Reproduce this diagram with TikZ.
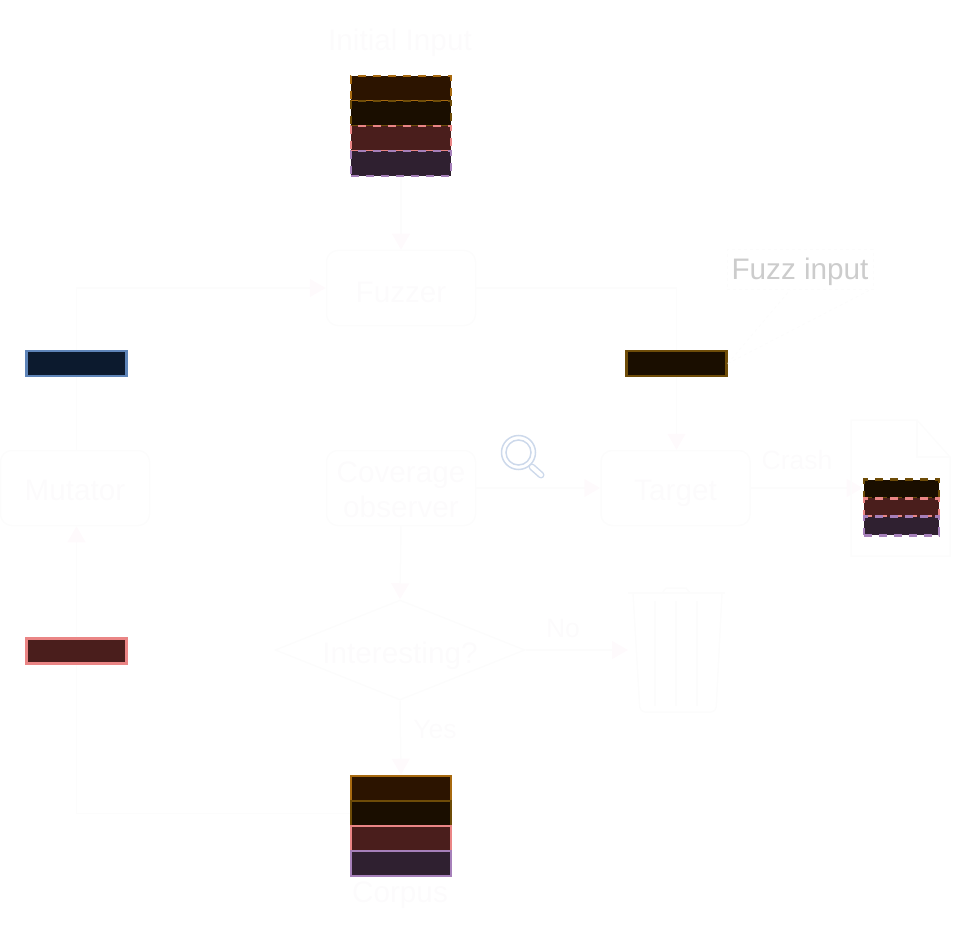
\documentclass[tikz,border=0pt]{standalone}
\usepackage{fontspec}
\setmainfont{Liberation Sans}
\usetikzlibrary{arrows.meta,shapes.geometric}
\definecolor{faintline}{HTML}{FCFCFC}
\definecolor{fainttext}{HTML}{FCFBFC}
\definecolor{arrowc}{HTML}{FEFAFC}
\definecolor{lens}{HTML}{CDD9EB}
\definecolor{fuzzgray}{HTML}{CCCCCC}
\definecolor{oA}{HTML}{2C1400}\definecolor{oAb}{HTML}{A86A10}
\definecolor{oB}{HTML}{1A0E00}\definecolor{oBb}{HTML}{6E4C08}
\definecolor{rA}{HTML}{4A1E1C}\definecolor{rAb}{HTML}{EA8585}
\definecolor{pA}{HTML}{2F2030}\definecolor{pAb}{HTML}{A680BA}
\definecolor{bA}{HTML}{0C1A2E}\definecolor{bAb}{HTML}{5E84B8}
\newcommand{\lowered}[2]{\raisebox{-#1}[\height][\depth]{#2}}
\tikzset{
  x=1pt,y=-1pt,
  big/.style={font=\fontsize{29.7}{35}\selectfont},
  small/.style={font=\fontsize{26.5}{31}\selectfont},
  procbox/.style={draw=faintline,line width=1.5pt,rounded corners=11pt,minimum width=149pt,minimum height=75pt,inner sep=0pt,align=center,text=fainttext,big},
  lab/.style={text=fainttext,inner sep=0pt},
  conn/.style={draw=faintline,line width=1.5pt,-{Triangle[length=16pt,width=18pt,color=arrowc]}},
  plain/.style={draw=faintline,line width=1.5pt},
  cell/.style={line width=2.6pt,minimum width=100pt,minimum height=25pt,inner sep=0pt},
  cellsm/.style={line width=2.6pt,minimum width=75pt,minimum height=18.5pt,inner sep=0pt},
  dashes/.style={dash pattern=on 8pt off 7pt},
  oa/.style={fill=oA,draw=oAb},
  ob/.style={fill=oB,draw=oBb},
  ra/.style={fill=rA,draw=rAb},
  pa/.style={fill=pA,draw=pAb},
  ba/.style={fill=bA,draw=bAb},
}
\begin{document}
\begin{tikzpicture}
\useasboundingbox (0,0) rectangle (953,925);
% process nodes
\node[procbox] (fuzzer) at (401,288) {\lowered{4pt}{Fuzzer}};
\node[procbox] (mutator) at (75,488) {\lowered{2pt}{Mutator}};
\node[procbox] (coverage) at (401,488) {\lowered{2pt}{Coverage}\\\lowered{2pt}{observer}};
\node[procbox] (target) at (675.5,488) {\lowered{5pt}{Target}};
\node[draw=faintline,line width=1.5pt,shape=diamond,aspect=2.5,minimum width=250pt,minimum height=100pt,inner sep=0pt,text=fainttext,big] (interesting) at (400,650) {\lowered{6pt}{Interesting?}};
% stacks
\node[cell,oa,dashes] (iA) at (401,88.5) {};
\node[cell,ob,dashes] (iB) at (401,113.5) {};
\node[cell,ra,dashes] (iC) at (401,138.5) {};
\node[cell,pa,dashes] (iD) at (401,163.5) {};
\node[cell,oa] (cA) at (401,788.5) {};
\node[cell,ob] (cB) at (401,813.5) {};
\node[cell,ra] (cC) at (401,838.5) {};
\node[cell,pa] (cD) at (401,863.5) {};
\node[cell,ba] (blue) at (76.5,363.5) {};
\node[cell,ob] (orange) at (676.5,363.5) {};
\node[cell,ra] (red) at (76.5,651) {};
\node[cellsm,ob,dashes] (xA) at (901.5,489) {};
\node[cellsm,ra,dashes] (xB) at (901.5,507.5) {};
\node[cellsm,pa,dashes] (xC) at (901.5,526) {};
% labels
\node[lab,big] (initlabel) at (400,43) {Initial Input};
\node[lab,big] (corpuslabel) at (400,895) {Corpus};
\node[lab,small] (nolabel) at (563,629) {No};
\node[lab,small] (yeslabel) at (435,730) {Yes};
\node[lab,small] (crashlabel) at (797,460) {Crash};
\node[big,text=fuzzgray,inner sep=0pt,minimum width=146pt,minimum height=40pt,draw=faintline,dashed,line width=1pt] (fuzzlabel) at (800,270) {\lowered{2pt}{Fuzz input}};
% connectors
\path[conn] (iD.south) -- (fuzzer.north);
\path[conn] (blue.north) |- (fuzzer.west);
\path[plain] (blue.south) -- (blue.south |- mutator.north);
\path[conn] (red.north) -- (red.north |- mutator.south);
\path[plain] (cB.west) -| (red.south);
\path[plain] (fuzzer.east) -| (orange.north);
\path[conn] (orange.south) -- (orange.south |- target.north);
\path[conn] (coverage.east) -- (target.west);
\path[conn] (coverage.south) -- (interesting.north);
\path[conn] (interesting.south) -- (cA.north);
\path[conn] (target.east) -- (target.east -| xB.west);
\coordinate (trashin) at (628,650);
\path[conn] (interesting.east) -- (trashin);
\coordinate (wedgeL) at (790,290);
\coordinate (wedgeR) at (870,290);
\path[plain,dashed,line width=1pt] (orange.east) -- (wedgeL);
\path[plain,dashed,line width=1pt] (orange.east) -- (wedgeR);
% crash document outline
\path[plain] (851,420) -- (917,420) -- (950,457) -- (950,556) -- (851,556) -- cycle;
\path[plain] (917,420) -- (917,457) -- (950,457);
% trash can
\path[plain] (628,593) -- (725,593);
\path[plain] (662,593) -- (666,588) -- (686,588) -- (690,593);
\path[plain,rounded corners=5pt] (633,593) -- (640,712) -- (716,712) -- (722,593);
\path[plain] (655,601) -- (655,706);
\path[plain] (676,601) -- (676,706);
\path[plain] (697,601) -- (697,706);
% magnifier
\draw[lens,line width=1.5pt] (518.5,452.5) circle[radius=17];
\draw[lens,line width=1.5pt] (518.5,452.5) circle[radius=12.5];
\draw[lens,line width=7pt,line cap=round] (532,467) -- (541,475);
\draw[white,line width=4pt,line cap=round] (532,467) -- (541,475);
\end{tikzpicture}
\end{document}
